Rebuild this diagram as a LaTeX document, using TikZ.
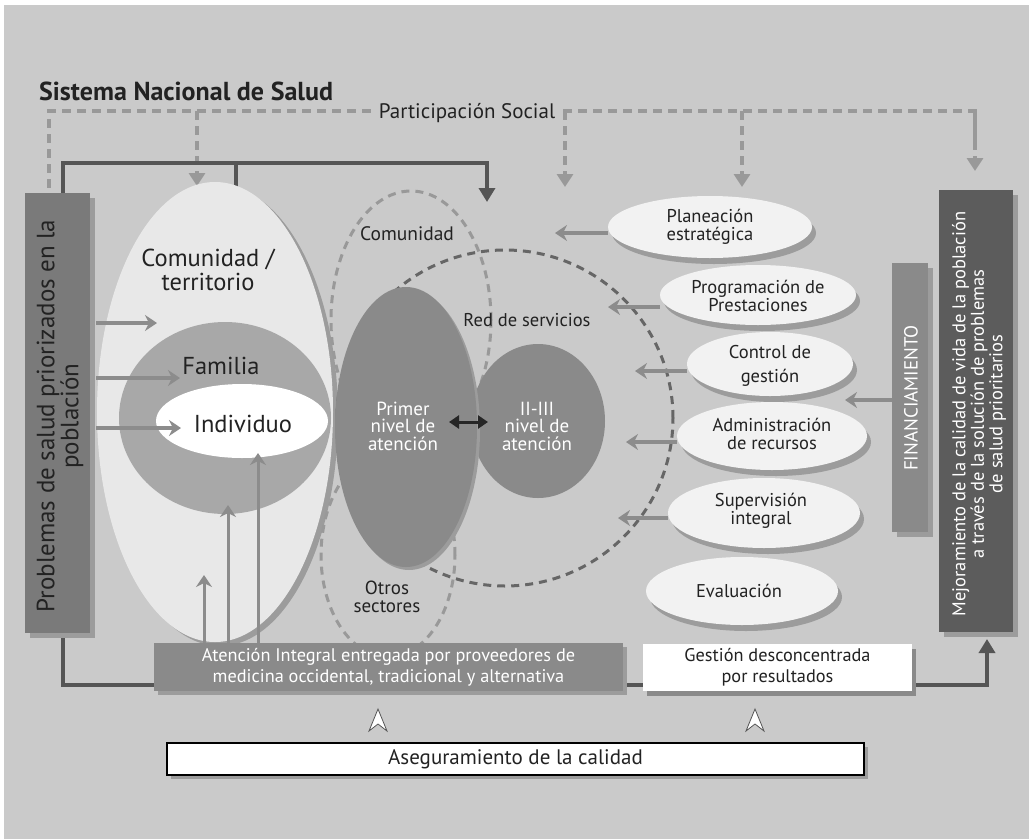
\documentclass[tikz,border=0pt]{standalone}
\usepackage{fontspec}
\setmainfont{PT Sans}
\usetikzlibrary{shapes.geometric,arrows.meta,shadows}
\pgfdeclarelayer{back}
\pgfdeclarelayer{lines}
\pgfsetlayers{back,lines,main}
\definecolor{bgc}{HTML}{CACACA}
\definecolor{bige}{HTML}{E8E8E8}
\definecolor{famc}{HTML}{A8A8A8}
\definecolor{midc}{HTML}{8A8A8A}
\definecolor{dashg}{HTML}{999999}
\definecolor{darkc}{HTML}{555555}
\definecolor{redc}{HTML}{666666}
\definecolor{rbarc}{HTML}{5C5C5C}
\definecolor{lbarc}{HTML}{7A7A7A}
\definecolor{shad}{HTML}{9C9C9C}
\definecolor{arrg}{HTML}{8C8C8C}
\definecolor{ellw}{HTML}{F2F2F2}
\definecolor{tc}{HTML}{222222}
\begin{document}
\begin{tikzpicture}[x=1pt,y=-1pt,
  txt/.style={text=tc, inner sep=0pt, align=center},
  dashl/.style={draw=dashg, line width=3.8pt, dash pattern=on 9pt off 6pt},
  dasharr/.style={dashl, -{Triangle[length=13pt,width=16pt]}},
  mainl/.style={draw=darkc, line width=4pt},
  mainarr/.style={mainl, -{Triangle[length=14pt,width=16pt]}},
  garr/.style={draw=arrg, line width=3.5pt, -{Stealth[length=12pt,width=16pt,inset=4pt]}},
  sh/.style={drop shadow={shadow xshift=#1, shadow yshift=-#1, fill=shad, opacity=1}},
  rell/.style={ellipse, fill=ellw, inner sep=0pt, drop shadow={shadow xshift=4pt, shadow yshift=-6pt, fill=shad, opacity=1}},
  fr/.style={font=\fontsize{18.5}{17.5}\selectfont},
  fc/.style={font=\fontsize{19}{17.5}\selectfont},
  dell/.style={ellipse, draw=dashg, line width=3pt, dash pattern=on 8pt off 6pt, inner sep=0pt}
]
\useasboundingbox (0,0) rectangle (1029,839);
\begin{pgfonlayer}{back}
\fill[white] (0,0) rectangle (1029,839);
\fill[bgc] (4,5) rectangle (1029,839);
\end{pgfonlayer}

% titles
\node[txt, anchor=base west, font=\bfseries\fontsize{26}{28}\selectfont] (title) at (39,100) {Sistema Nacional de Salud};
\node[txt, anchor=base, inner xsep=8pt, font=\fontsize{21}{24}\selectfont] (ps) at (467,118) {Participación Social};

% bars
\node[fill=lbarc, inner sep=0pt, minimum width=65pt, minimum height=440pt, sh=5pt] (lbar) at (57.5,413) {};
\node[txt, rotate=90, font=\fontsize{25}{24}\selectfont] (lbart) at (60,416) {Problemas de salud priorizados en la\\población};
\node[fill=rbarc, inner sep=0pt, minimum width=74pt, minimum height=442pt, sh=5pt] (rbar) at (976,411) {};
\node[txt, rotate=90, text=white, font=\fontsize{18.5}{18.5}\selectfont] (rbart) at (979,414) {Mejoramiento de la calidad de vida de la población\\a través de la solución de problemas\\de salud prioritarios};
\node[fill=midc, inner sep=0pt, minimum width=36pt, minimum height=269pt, sh=5pt] (fin) at (910,397.5) {};
\node[txt, rotate=90, text=white, font=\fontsize{19}{22}\selectfont] (fint) at (911,398) {FINANCIAMIENTO};

% free ends
\coordinate (tip1) at (197,186);
\coordinate (tip2) at (565,187);
\coordinate (tip3) at (742,187);
\coordinate (tip4) at (975,171);
\coordinate (ctip) at (487,202);
\coordinate (rtip) at (987,639);

\begin{pgfonlayer}{lines}
\draw[dashl] (ps.west |- 0,111) -| (lbar.north -| 49,0);
\draw[dasharr] (197,111) -- (tip1);
\draw[dashl] (ps.east |- 0,111) -- (975,111) -- (975,150);
\draw[dasharr] (975,111) -- (tip4);
\draw[dasharr] (565,111) -- (tip2);
\draw[dasharr] (742,111) -- (tip3);
\draw[mainarr] (lbar.center -| 63,0) -- (63,163) -| (ctip);
\draw[mainl] (236,163) -- (236,200);
\draw[mainarr] (lbar.center -| 63,0) |- (987,685) -- (rtip);
\end{pgfonlayer}

% big ellipse
\node[ellipse, fill=bige, inner sep=0pt, minimum width=236pt, minimum height=460pt, drop shadow={shadow xshift=5pt, shadow yshift=-4pt, fill=shad, opacity=1}] (com) at (215,412) {};
\begin{scope}
\clip (215,412) ellipse [x radius=118pt, y radius=230pt];
\fill[famc] (225,418) ellipse [x radius=106pt, y radius=96pt];
\fill[white] (242,421) ellipse [x radius=86pt, y radius=37pt];
\end{scope}
\node[txt, font=\fontsize{24.5}{24}\selectfont] (comt) at (208,270) {Comunidad /\\territorio};
\node[txt, anchor=base, font=\fontsize{24.5}{22}\selectfont] (famt) at (221,374) {Familia};
\node[txt, anchor=base, font=\fontsize{24.5}{22}\selectfont] (indt) at (243,432) {Individuo};

% dashed areas
\node[dell, minimum width=160pt, minimum height=258pt] (comd) at (411,320) {};
\node[dell, minimum width=134pt, minimum height=204pt] (otr) at (388,555) {};
\node[circle, draw=redc, line width=3pt, dash pattern=on 8pt off 6pt, inner sep=0pt, minimum size=336pt] (red) at (505,418) {};
\node[txt, anchor=base, font=\fontsize{19.5}{18}\selectfont] (comdt) at (407,240) {Comunidad};
\node[txt, anchor=base, font=\fontsize{18.5}{18}\selectfont] (redt) at (527,326) {Red de servicios};
\node[txt, font=\fontsize{19}{17.5}\selectfont] (otrt) at (387,597) {Otros\\sectores};

% levels
\node[ellipse, fill=midc, inner sep=0pt, minimum width=134pt, minimum height=154pt] (sn) at (538,421) {};
\node[ellipse, fill=midc, inner sep=0pt, minimum width=142pt, minimum height=280pt, sh=3pt] (pn) at (406,427) {};
\node[txt, text=white, fc] (pnt) at (403,426) {Primer\\nivel de\\atención};
\node[txt, text=white, fc] (snt) at (537,426) {II-III\\nivel de\\atención};
\coordinate (da1) at (449,422);
\coordinate (da2) at (488,422);
\draw[line width=3pt, draw=black!85, {Triangle[length=10pt,width=13pt]}-{Triangle[length=10pt,width=13pt]}] (da1) -- (da2);

% right ellipses
\node[rell, minimum width=204pt, minimum height=62pt] (e1) at (710,227) {};
\node[txt, fr] (e1t) at (e1) {Planeación\\estratégica};
\node[rell, minimum width=196pt, minimum height=60pt] (e2) at (758,295) {};
\node[txt, fr] (e2t) at (758,296) {Programación de\\Prestaciones};
\node[rell, minimum width=166pt, minimum height=64pt] (e3) at (770,364) {};
\node[txt, fr] (e3t) at (770,366) {Control de\\[7pt]gestión};
\node[rell, minimum width=190pt, minimum height=68pt] (e4) at (772,436) {};
\node[txt, fr] (e4t) at (772,434) {Administración\\de recursos};
\node[rell, minimum width=192pt, minimum height=70pt] (e5) at (764,513) {};
\node[txt, fr] (e5t) at (761,511) {Supervisión\\integral};
\node[rell, minimum width=192pt, minimum height=68pt] (e6) at (742,591) {};
\node[txt, fr] (e6t) at (739,591) {Evaluación};

\coordinate (a1) at (555,233);
\coordinate (a2) at (608,307);
\coordinate (a3) at (635,371);
\coordinate (a4) at (626,442);
\coordinate (a5) at (618,518);
\coordinate (a6) at (845,400);
\draw[garr] (e1.west |- a1) -- (a1);
\draw[garr] (e2.west |- a2) -- (a2);
\draw[garr] (e3.west |- a3) -- (a3);
\draw[garr] (e4.west |- a4) -- (a4);
\draw[garr] (e5.west |- a5) -- (a5);
\draw[garr] (fin.west |- a6) -- (a6);

% left arrows
\coordinate (l1) at (157,323);
\coordinate (l2) at (180,378);
\coordinate (l3) at (181,428);
\draw[garr] ([xshift=6pt]lbar.east |- l1) -- (l1);
\draw[garr] ([xshift=6pt]lbar.east |- l2) -- (l2);
\draw[garr] ([xshift=6pt]lbar.east |- l3) -- (l3);

% bottom boxes
\node[fill=midc, inner sep=0pt, minimum width=469pt, minimum height=48pt, sh=4pt, text=white, align=center, font=\fontsize{18.3}{21}\selectfont] (aten) at (388.5,667) {Atención Integral entregada por proveedores de\\medicina occidental, tradicional y alternativa};
\node[fill=white, inner sep=0pt, minimum width=269pt, minimum height=47pt, drop shadow={shadow xshift=4pt, shadow yshift=-5pt, fill=midc, opacity=1}, text=tc, align=center, font=\fontsize{18.3}{21}\selectfont] (gest) at (777.5,667.5) {Gestión desconcentrada\\por resultados};

% upward arrows
\coordinate (u1) at (204,575);
\coordinate (u2) at (228,505);
\coordinate (u3) at (258,453);
\draw[garr, line width=3pt] (aten.north -| u1) -- (u1);
\draw[garr, line width=3pt] (aten.north -| u2) -- (u2);
\draw[garr, line width=3pt] (aten.north -| u3) -- (u3);

% quality
\node[draw=black, line width=1.6pt, fill=white, inner sep=0pt, minimum width=697pt, minimum height=32pt, sh=4pt, text=tc, font=\fontsize{21}{22}\selectfont] (aseg) at (515.5,759) {Aseguramiento de la calidad};
\filldraw[fill=white, draw=darkc, line width=0.8pt] (378,709) -- (387,731) -- (378,724) -- (369,731) -- cycle;
\filldraw[fill=white, draw=darkc, line width=0.8pt] (755,709) -- (764,731) -- (755,724) -- (746,731) -- cycle;
\end{tikzpicture}
\end{document}
